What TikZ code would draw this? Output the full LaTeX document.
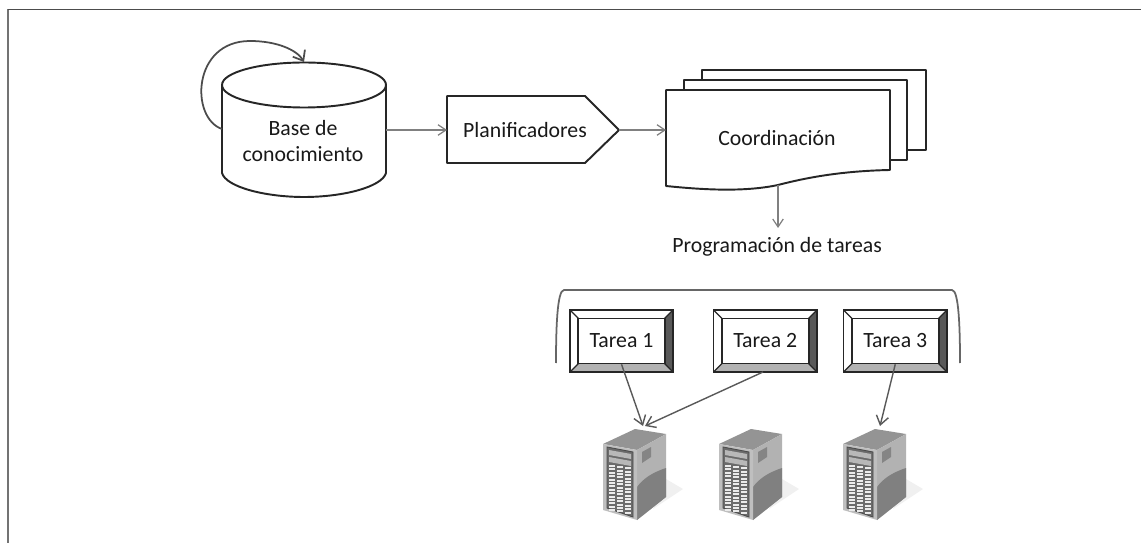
\documentclass[tikz,border=0pt]{standalone}
\usepackage{fontspec}
\setmainfont{Carlito}
\usetikzlibrary{arrows.meta}
\tikzset{
  px/.style={x=0.02cm,y=-0.02cm},
  shapeline/.style={draw=black!85,line width=1.1pt,fill=white,line join=round},
  flowline/.style={draw=black!50,line width=0.7pt,-{Straight Barb[length=4.5pt,width=6pt]}},
  taskarrow/.style={draw=black!65,line width=0.8pt,-{Straight Barb[length=5pt,width=7pt]}},
  label/.style={inner sep=0pt,font=\fontsize{12.4}{14.7}\selectfont,text=black!90,align=center},
  taskbox/.style={label,draw=black!85,line width=0.9pt,fill=white,minimum width=1.74cm,minimum height=0.9cm},
}
\begin{document}
\begin{tikzpicture}[px]
  \useasboundingbox (0,0) rectangle (1141,543);
  % frame
  \coordinate (frametl) at (8,9.5);
  \coordinate (frametr) at (1141,9.5);
  \coordinate (framebl) at (8,543);
  \draw[black!55,line width=1pt] (framebl) -- (frametl);
  \draw[black!70,line width=0.9pt] (frametl) -- (frametr);
  % knowledge base
  \draw[shapeline] (222,85) -- (222,173) .. controls (226,187) and (265,197) .. (304,197)
    .. controls (343,197) and (382,187) .. (386,173) -- (386,85);
  \draw[shapeline] (304,85) ellipse (82 and 22.5);
  \node[label] (base) at (303,141) {Base de\\conocimiento};
  \coordinate (baseleft) at (222,129);
  \coordinate (basetop) at (304,62);
  \coordinate (baseright) at (386,130);
  \draw[black!70,line width=1pt,-{Straight Barb[length=5pt,width=8pt]}] (baseleft)
    .. controls (190,118) and (192,41) .. (250,41) .. controls (277,41) and (297,50) .. (basetop);
  % planners
  \draw[shapeline] (447,96) -- (585,96) -- (619,130) -- (585,163) -- (447,163) -- cycle;
  \node[label] (plan) at (525,130) {Planificadores};
  \coordinate (planleft) at (447,130);
  \coordinate (planright) at (619,130);
  \draw[flowline] (baseright) -- (planleft);
  % coordination sheets
  \draw[shapeline] (702,70) rectangle (926,150);
  \draw[shapeline] (684,80) rectangle (907,160);
  \draw[shapeline] (666,90) -- (890,90) -- (890,170) .. controls (840,171) and (805,178) .. (778,185)
    .. controls (745,192) and (705,190) .. (666,186) -- cycle;
  \node[label] (coord) at (777,138) {Coordinación};
  \coordinate (coordleft) at (666,130);
  \coordinate (coordbottom) at (778,185);
  \coordinate (progtop) at (778,228);
  \draw[flowline] (planright) -- (coordleft);
  \node[label] (prog) at (777,247) {Programación de tareas};
  \draw[flowline] (coordbottom) -- (progtop);
  % bracket over the tasks
  \coordinate (brackl) at (556,363);
  \coordinate (brackr) at (960,363);
  \draw[black!60,line width=1pt] (brackl) .. controls (556,330) and (557,290) .. (564,290)
    -- (952,290) .. controls (959,290) and (960,330) .. (brackr);
  % tasks
  \foreach \name/\xa/\xb/\txt in {tareaone/570/673/Tarea 1,tareatwo/713.5/817/Tarea 2,tareathree/843.5/947/Tarea 3} {
    \fill[black!65] (\xb,310) -- (\xb-8.5,318.5) -- (\xb-8.5,363.5) -- (\xb,372) -- cycle;
    \fill[black!30] (\xa,372) -- (\xa+8.5,363.5) -- (\xb-8.5,363.5) -- (\xb,372) -- cycle;
    \draw[black!85,line width=1.1pt] (\xa,310) rectangle (\xb,372);
    \draw[black!85,line width=0.7pt] (\xa,310) -- (\xa+8.5,318.5) (\xb,310) -- (\xb-8.5,318.5)
      (\xa,372) -- (\xa+8.5,363.5) (\xb,372) -- (\xb-8.5,363.5);
    \node[taskbox] (\name) at ({(\xa+\xb)/2},341) {\txt};
  }
  % servers
  \foreach \name/\xs in {serverone/603,servertwo/719,serverthree/843} {
    \begin{scope}[shift={(\xs,429)}]
      \fill[black!6] (63,50) -- (80,60) -- (50,80) -- cycle;
      \fill[black!42] (0,15) -- (32,0) -- (63,5) -- (34,21) -- cycle;
      \fill[black!30] (34,21) -- (63,5) -- (63,68) -- (34,91) -- cycle;
      \fill[black!50] (34,58) .. controls (40,50) and (48,44) .. (63,39) -- (63,68) -- (34,91) -- cycle;
      \fill[black!48] (39,23) -- (48,18) -- (48,28) -- (39,34) -- cycle;
      \fill[black!25] (0,15) -- (34,21) -- (34,91) -- (0,81) -- cycle;
      \draw[black!70,fill=black!58,line width=0.5pt] (4,18) -- (30,23) -- (30,88) -- (4,79) -- cycle;
      \fill[black!28] (6,21) -- (28,25) -- (28,30) -- (6,26) -- cycle;
      \fill[black!28] (6,28) -- (28,32) -- (28,37) -- (6,33) -- cycle;
      \foreach \row in {0,...,13} {
        \foreach \col in {0,1,2} {
          \fill[black!8] (5.5+\col*8.2,36+\row*3.4+\col*1.2) rectangle (11.5+\col*8.2,38+\row*3.4+\col*1.2);
        }
      }
    \end{scope}
  }
  \coordinate (serveronetip) at (643,426);
  \coordinate (serveronetipb) at (645,426);
  \coordinate (serverthreetip) at (880,426);
  \coordinate (tareatwofoot) at (763,372);
  \draw[taskarrow] (tareaone.south) -- (serveronetip);
  \draw[taskarrow] (tareatwofoot) -- (serveronetipb);
  \draw[taskarrow] (tareathree.south) -- (serverthreetip);
\end{tikzpicture}
\end{document}
